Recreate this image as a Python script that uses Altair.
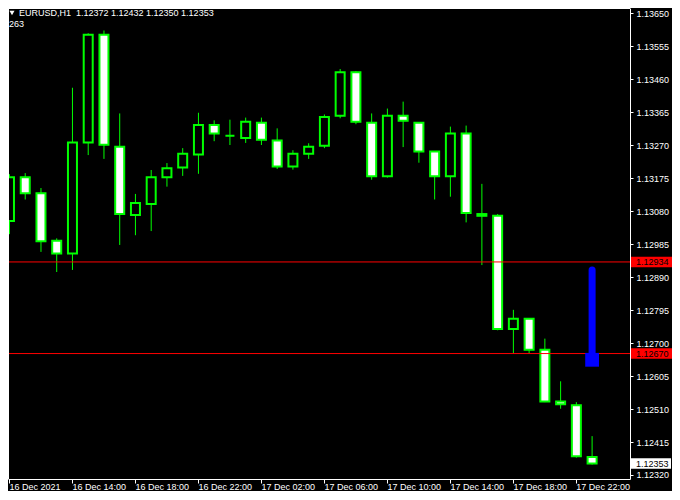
import altair as alt
import pandas as pd

symbol = "EURUSD"
timeframe = "H1"
bars_count = "263"

# hourly candles, 16 Dec 2021 10:00 ... 17 Dec 2021 23:00
opens = [1.13052, 1.13178, 1.13132, 1.12995, 1.12958, 1.13278, 1.13589, 1.13266, 1.13069, 1.13101,
         1.13178, 1.13206, 1.13244, 1.13329, 1.13298, 1.13291, 1.13335, 1.13284, 1.13209, 1.13246,
         1.13269, 1.13355, 1.13481, 1.13335, 1.13181, 1.13355, 1.13335, 1.13252, 1.13181, 1.13304,
         1.13072, 1.13067, 1.12741, 1.12770, 1.12681, 1.12532, 1.12521, 1.12372]
highs = [1.13187, 1.13190, 1.13147, 1.13002, 1.13436, 1.13593, 1.13601, 1.13362, 1.13130, 1.13199,
         1.13219, 1.13262, 1.13364, 1.13342, 1.13344, 1.13350, 1.13350, 1.13319, 1.13256, 1.13276,
         1.13359, 1.13490, 1.13484, 1.13362, 1.13376, 1.13396, 1.13336, 1.13253, 1.13324, 1.13327,
         1.13159, 1.13072, 1.12796, 1.12771, 1.12713, 1.12590, 1.12530, 1.12432]
lows = [1.13014, 1.13114, 1.12963, 1.12905, 1.12911, 1.13242, 1.13231, 1.12983, 1.13011, 1.13023,
        1.13151, 1.13182, 1.13188, 1.13282, 1.13271, 1.13277, 1.13271, 1.13202, 1.13200, 1.13231,
        1.13262, 1.13348, 1.13331, 1.13171, 1.13177, 1.13265, 1.13220, 1.13114, 1.13122, 1.13048,
        1.12925, 1.12737, 1.12671, 1.12671, 1.12530, 1.12511, 1.12370, 1.12350]
closes = [1.13178, 1.13132, 1.12994, 1.12958, 1.13278, 1.13589, 1.13272, 1.13072, 1.13104, 1.13178,
          1.13204, 1.13246, 1.13329, 1.13304, 1.13298, 1.13338, 1.13286, 1.13209, 1.13246, 1.13266,
          1.13352, 1.13481, 1.13338, 1.13181, 1.13355, 1.13341, 1.13252, 1.13181, 1.13304, 1.13075,
          1.13067, 1.12741, 1.12770, 1.12681, 1.12532, 1.12524, 1.12374, 1.12353]

tick_index = [0, 4, 8, 12, 16, 20, 24, 28, 32, 36]
tick_labels = ["16 Dec 2021", "16 Dec 14:00", "16 Dec 18:00", "16 Dec 22:00", "17 Dec 02:00",
               "17 Dec 06:00", "17 Dec 10:00", "17 Dec 14:00", "17 Dec 18:00", "17 Dec 22:00"]

price_ticks = [1.13650, 1.13555, 1.13460, 1.13365, 1.13270, 1.13175, 1.13080, 1.12985,
               1.12890, 1.12795, 1.12700, 1.12605, 1.12510, 1.12415, 1.12320]

level_prices = [1.12934, 1.12670]

arrow_index = [37]
arrow_top = [1.12911]
arrow_bottom = [1.12660]
arrow_head = [1.12652]

FONT = "Liberation Sans"
W, H = 622, 471
xmin, xmax = -0.09375, 39.40625
ymin, ymax = 1.1230847, 1.1366585

xs = alt.Scale(domain=[xmin, xmax], nice=False, zero=False, padding=0)
ys = alt.Scale(domain=[ymin, ymax], nice=False, zero=False, padding=0)

xaxis = alt.Axis(values=tick_index, labels=False, ticks=True, tickColor="white", tickSize=4,
                 domainColor="white", grid=False, title=None, orient="bottom")
yaxis = alt.Axis(orient="right", values=price_ticks, format=".5f", labelColor="white",
                 labelFont=FONT, labelFontSize=9, tickColor="white", tickSize=3, labelPadding=3,
                 domainColor="white", grid=False, title=None, labelOverlap=False)


def X(f):
    return alt.X(f, scale=xs, axis=xaxis)


def Y(f):
    return alt.Y(f, scale=ys, axis=yaxis)


df = pd.DataFrame({"i": list(range(len(opens))), "open": opens, "high": highs,
                   "low": lows, "close": closes})
base = alt.Chart(df)

wicks = base.mark_rule(color="#00ff00", strokeWidth=1, clip=True).encode(
    x=X("i:Q"), y=Y("low:Q"), y2="high:Q")

bodies = base.mark_bar(size=9, stroke="#00ff00", strokeWidth=2, clip=True).encode(
    x=X("i:Q"), y=Y("open:Q"), y2="close:Q",
    fill=alt.condition("datum.close >= datum.open", alt.value("black"), alt.value("white")))

lv = pd.DataFrame({"price": level_prices})
levels = alt.Chart(lv).mark_rule(color="#ff0000", strokeWidth=1).encode(y=Y("price:Q"))
level_box = alt.Chart(lv).transform_calculate(
    lo="datum.price - 0.00015", hi="datum.price + 0.00015"
).mark_rect(fill="#ff0000").encode(x=alt.value(623), x2=alt.value(664), y=Y("lo:Q"), y2="hi:Q")
level_txt = alt.Chart(lv).mark_text(align="left", baseline="middle", color="black",
                                    font=FONT, fontSize=9).encode(
    x=alt.value(628), y=Y("price:Q"), text=alt.Text("price:Q", format=".5f"))

cur = pd.DataFrame({"price": [closes[-1]]})
cur_box = alt.Chart(cur).transform_calculate(
    lo="datum.price - 0.00015", hi="datum.price + 0.00015"
).mark_rect(fill="white").encode(x=alt.value(623), x2=alt.value(663), y=Y("lo:Q"), y2="hi:Q")
cur_txt = alt.Chart(cur).mark_text(align="left", baseline="middle", color="black",
                                   font=FONT, fontSize=9).encode(
    x=alt.value(628), y=Y("price:Q"), text=alt.Text("price:Q", format=".5f"))

ar = pd.DataFrame({"i": arrow_index, "top": arrow_top, "bottom": arrow_bottom, "head": arrow_head})
arrow_line = alt.Chart(ar).mark_rule(color="#0000ff", strokeWidth=7, strokeCap="round").encode(
    x=X("i:Q"), y=Y("top:Q"), y2="bottom:Q")
arrow_blob = alt.Chart(ar).mark_point(shape="square", filled=True, color="#0000ff", opacity=1,
                                      size=190).encode(x=X("i:Q"), y=Y("head:Q"))

xt = pd.DataFrame({"idx": tick_index, "label": tick_labels})
xlabels = alt.Chart(xt).mark_text(align="left", baseline="middle", color="white", font=FONT,
                                  fontSize=9).encode(
    x=X("idx:Q"), y=alt.value(H + 8), text="label:N")

one = alt.Chart(pd.DataFrame({"k": [0]}))
frame_left = one.mark_rule(color="white", strokeWidth=1).encode(
    x=alt.value(0.5), y=alt.value(0), y2=alt.value(H))
frame_top = one.mark_rule(color="white", strokeWidth=1).encode(
    y=alt.value(0.5), x=alt.value(0), x2=alt.value(W))

header_text = (f"{symbol},{timeframe}\u00a0\u00a0{opens[-1]:.5f} {highs[-1]:.5f} "
               f"{lows[-1]:.5f} {closes[-1]:.5f}")
header = one.mark_text(align="left", baseline="middle", color="white", font=FONT,
                       fontSize=9, text=header_text).encode(x=alt.value(11), y=alt.value(5))
tri = one.mark_point(shape="triangle-down", filled=True, color="white", opacity=1,
                     size=26).encode(x=alt.value(4), y=alt.value(5))
count = one.mark_text(align="left", baseline="middle", color="white", font=FONT,
                      fontSize=9, text=bars_count).encode(x=alt.value(1), y=alt.value(16))

chart = alt.layer(
    wicks, bodies, levels, level_box, level_txt, cur_box, cur_txt,
    arrow_line, arrow_blob, xlabels, frame_left, frame_top, header, tri, count
).properties(
    width=W, height=H, background="black",
    padding={"left": 0, "top": 0, "right": 42, "bottom": 12},
    autosize=alt.AutoSizeParams(type="none")
).configure_view(strokeWidth=0)

chart.save("out.html", embed_options={"renderer": "svg", "actions": False})
